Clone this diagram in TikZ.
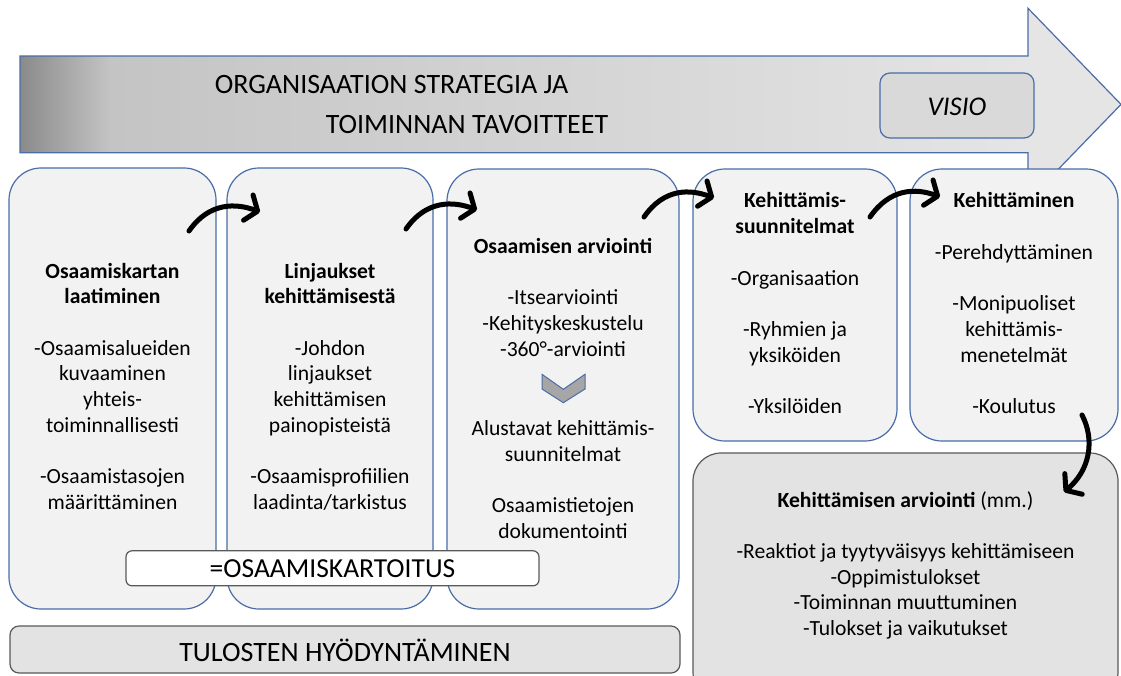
\documentclass[tikz,border=0pt]{standalone}
\usepackage{fontspec}
\setmainfont{Carlito}
\usetikzlibrary{arrows.meta}
\definecolor{blueline}{HTML}{4A6DA7}
\definecolor{boxfill}{HTML}{F2F2F2}
\definecolor{darkline}{HTML}{595959}
\definecolor{graybox}{HTML}{E3E3E3}
\definecolor{visiofill}{HTML}{D9D9D9}
\definecolor{chevfill}{HTML}{A6A6A6}
\definecolor{shadeA}{HTML}{8A8A8A}
\definecolor{shadeB}{HTML}{C4C4C4}
\definecolor{shadeC}{HTML}{E5E5E5}
\begin{document}
\begin{tikzpicture}[x=1pt,y=-1pt,
  stagebox/.style={draw=blueline,fill=boxfill,line width=1.2pt,rounded corners=32pt,inner sep=0pt},
  graystage/.style={draw=darkline,fill=graybox,line width=1.2pt,inner sep=0pt},
  txt/.style={font=\fontsize{21.6}{25.7}\selectfont,align=center,anchor=base,inner sep=0pt},
  bigtxt/.style={font=\fontsize{28}{34}\selectfont,anchor=base,inner sep=0pt},
  flow/.style={line width=5pt,line cap=round,-{Straight Barb[length=10pt,width=27pt,round]}},
]
\useasboundingbox (0,0) rectangle (1121,675);
\clip (0,0) rectangle (1121,675);

% big strategy arrow
\fill[shadeC] (20,56) -- (1028,56) -- (1028,8.3) -- (1121,104.4) -- (1028,200.5) -- (1028,152.7) -- (20,152.7) -- cycle;
\shade[left color=shadeA,right color=shadeB] (20,56) rectangle (110,152.7);
\shade[left color=shadeB,right color=shadeC] (110,56) rectangle (1028,152.7);
\draw[blueline,line width=1.2pt,line join=miter] (20,56) -- (1028,56) -- (1028,8.3) -- (1121,104.4) -- (1028,200.5) -- (1028,152.7) -- (20,152.7) -- cycle;
\node[bigtxt] (t1) at (391.5,93.3) {ORGANISAATION STRATEGIA JA};
\node[bigtxt] (t2) at (467,133.3) {TOIMINNAN TAVOITTEET};
\node[draw=blueline,fill=visiofill,line width=1.2pt,rounded corners=10pt,minimum width=154pt,minimum height=65pt,inner sep=0pt] (visio) at (957,105.5) {};
\node[font=\fontsize{27}{32}\selectfont\itshape,anchor=base,inner sep=0pt] (visiot) at (957,115) {VISIO};

% stage boxes
\node[stagebox,minimum width=207pt,minimum height=441pt] (b1) at (112.5,388.5) {};
\node[stagebox,minimum width=206pt,minimum height=441pt] (b2) at (330,388.5) {};
\node[stagebox,minimum width=232pt,minimum height=440pt] (b3) at (563,389) {};
\node[stagebox,minimum width=204pt,minimum height=272pt] (b4) at (795,305) {};
\node[stagebox,minimum width=208pt,minimum height=272pt] (b5) at (1014,305) {};
\node[graystage,rounded corners=28pt,minimum width=425pt,minimum height=247pt] (b6) at (905.5,576.5) {};
\node[graystage,rounded corners=9pt,minimum width=670pt,minimum height=47pt] (tulos) at (345,649.5) {};
\node[bigtxt] (tulost) at (345,661.7) {TULOSTEN HYÖDYNTÄMINEN};
\node[draw=darkline,fill=white,line width=1.2pt,rounded corners=6pt,minimum width=413pt,minimum height=35pt,inner sep=0pt] (kart) at (332.5,568.3) {};
\node[font=\fontsize{27.5}{32}\selectfont,anchor=base,inner sep=0pt] (kartt) at (332.5,577) {=OSAAMISKARTOITUS};

% texts (anchored at the baseline of their last line)
\node[txt] (x1) at (112.5,509.3) {\textbf{Osaamiskartan}\\\textbf{laatiminen}\\[25.7pt]-Osaamisalueiden\\kuvaaminen\\yhteis-\\toiminnallisesti\\[25.7pt]-Osaamistasojen\\määrittäminen};
\node[txt] (x2) at (330,509.3) {\textbf{Linjaukset}\\\textbf{kehittämisestä}\\[25.7pt]-Johdon\\linjaukset\\kehittämisen\\painopisteistä\\[25.7pt]-Osaamisprofiilien\\laadinta/tarkistus};
\node[txt] (x3) at (563,538.5) {\textbf{Osaamisen arviointi}\\[25.7pt]-Itsearviointi\\-Kehityskeskustelu\\-360°-arviointi\\[54pt]Alustavat kehittämis-\\suunnitelmat\\[25.7pt]Osaamistietojen\\dokumentointi};
\node[txt] (x4) at (795,413.5) {\textbf{Kehittämis-}\\\textbf{suunnitelmat}\\[25.7pt]-Organisaation\\[25.7pt]-Ryhmien ja\\yksiköiden\\[25.7pt]-Yksilöiden};
\node[txt] (x5) at (1014,413.5) {\textbf{Kehittäminen}\\[25.7pt]-Perehdyttäminen\\[25.7pt]-Monipuoliset\\kehittämis-\\menetelmät\\[25.7pt]-Koulutus};
\node[txt] (x6) at (905.5,635.5) {\textbf{Kehittämisen arviointi} (mm.)\\[25.7pt]-Reaktiot ja tyytyväisyys kehittämiseen\\-Oppimistulokset\\-Toiminnan muuttuminen\\-Tulokset ja vaikutukset};

% chevron
\draw[blueline,fill=chevfill,line width=1pt,line join=miter] (542,374.3) -- (563.3,389.3) -- (585,374.3) -- (585,389) -- (563.3,402.7) -- (542,389) -- cycle;

% curved arrows
\coordinate (a1s) at (189,231);
\coordinate (a1e) at (260,212);
\coordinate (a2s) at (406,229);
\coordinate (a2e) at (477,210);
\coordinate (a3s) at (644,217);
\coordinate (a3e) at (714,198);
\coordinate (a4s) at (870,217);
\coordinate (a4e) at (940,197);
\coordinate (a5s) at (1082,415);
\coordinate (a5e) at (1064,492);
\draw[flow] (a1s) .. controls +(20,-29) and +(-24,-9) .. (a1e);
\draw[flow] (a2s) .. controls +(20,-29) and +(-24,-9) .. (a2e);
\draw[flow] (a3s) .. controls +(20,-29) and +(-24,-9) .. (a3e);
\draw[flow] (a4s) .. controls +(20,-29) and +(-24,-9) .. (a4e);
\draw[flow] (a5s) .. controls +(13,25) and +(26,-22) .. (a5e);
\end{tikzpicture}
\end{document}
